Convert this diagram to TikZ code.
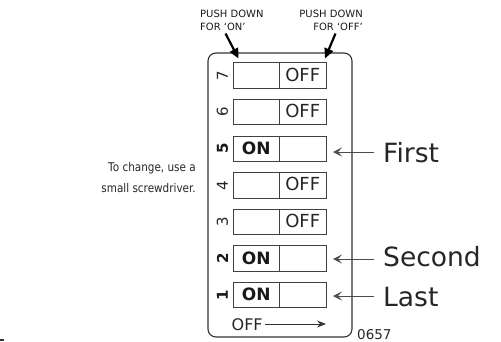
\documentclass[tikz,border=0pt]{standalone}
\usepackage{fontspec}
\setmainfont{DejaVu Sans}
\usetikzlibrary{arrows.meta}
\begin{document}
\begin{tikzpicture}[x=1pt,y=-1pt,
  frame/.style={draw=black!80, line width=1.1pt, rounded corners=8pt, minimum width=144pt, minimum height=284pt, inner sep=0pt},
  swbox/.style={draw=black!75, line width=0.9pt, minimum width=46.5pt, minimum height=25.5pt, inner sep=0pt, outer sep=0pt},
  offtxt/.style={font=\fontsize{18}{18}\selectfont, text=black!85, inner sep=0pt},
  ontxt/.style={font=\fontsize{17}{17}\bfseries\selectfont, text=black!90, inner sep=0pt},
  numtxt/.style={rotate=90, font=\fontsize{15}{15}\selectfont, text=black!85, inner sep=0pt},
  numbold/.style={rotate=90, font=\fontsize{15}{15}\bfseries\selectfont, text=black!90, inner sep=0pt},
  big/.style={font=\fontsize{26.5}{26.5}\selectfont, anchor=base west, inner sep=0pt, text=black!85},
  small/.style={font=\fontsize{10}{13}\selectfont, inner sep=0pt, text=black!90},
  ptr/.style={-{Stealth[length=9pt,width=9pt,inset=4pt]}, line width=0.8pt, draw=black!70},
  push/.style={-{Triangle[length=10pt,width=9pt]}, line width=2.2pt, draw=black},
]
\useasboundingbox (0,0) rectangle (501,341);

% enclosure
\node[frame] (frame) at (280,195) {};

% switches
\foreach \n/\k/\on in {7/0/0,6/1/0,5/2/1,4/3/0,3/4/0,2/5/1,1/6/1} {
  \pgfmathsetmacro\yc{75.5+36.6*\k}
  \node[swbox] (s\n l) at (256.25,\yc) {};
  \node[swbox] (s\n r) at (302.75,\yc) {};
  \ifnum\on=1
    \node[ontxt] (t\n) at ([yshift=0.5pt]s\n l.center) {ON};
    \node[numbold] (n\n) at (222.5,\yc) {\n};
  \else
    \node[offtxt] (t\n) at ([yshift=1pt]s\n r.center) {OFF};
    \node[numtxt] (n\n) at (222.5,\yc) {\n};
  \fi
}

% bottom OFF arrow
\node[font=\fontsize{16}{16}\selectfont, text=black!85, inner sep=0pt, anchor=base west] (offb) at (231.5,330) {OFF};
\coordinate (offe) at (326,324);
\draw[-{Stealth[length=9pt,width=7pt,inset=3pt]}, line width=0.9pt, draw=black!80] ([xshift=2pt]offb.east |- offe) -- (offe);

% top labels
\node[small, align=left, anchor=north west] (pon) at (200,10) {PUSH DOWN\\FOR ‘ON’};
\node[small, align=right, anchor=north east] (poff) at (363,10) {PUSH DOWN\\FOR ‘OFF’};
\coordinate (pa1) at (225.5,33.5);
\coordinate (pa2) at (238.5,58.5);
\coordinate (pb1) at (335.5,33.5);
\coordinate (pb2) at (325,58.5);
\draw[push] (pa1) -- (pa2);
\draw[push] (pb1) -- (pb2);

% right labels
\node[big] (first) at (383,162) {First};
\node[big] (second) at (383,266.5) {Second};
\node[big] (last) at (383,306.5) {Last};
\coordinate (f1) at (374,152);  \coordinate (f2) at (333,152);
\coordinate (g1) at (374,259);  \coordinate (g2) at (333,259);
\coordinate (h1) at (374,296);  \coordinate (h2) at (333,296);
\draw[ptr] (f1) -- (f2);
\draw[ptr] (g1) -- (g2);
\draw[ptr] (h1) -- (h2);

% left note
\node[font=\fontsize{12}{21}\selectfont, align=right, anchor=base east, inner sep=0pt, text=black!85] (note) at (196,192) {\scalebox{0.87}[1]{To change, use a}\\\scalebox{0.87}[1]{small screwdriver.}};

% code
\node[font=\fontsize{13.5}{13.5}\selectfont, anchor=base west, inner sep=0pt, text=black!85] (code) at (357,339) {0657};

% tiny mark
\fill[black!80] (0,339) rectangle (4,341);
\end{tikzpicture}
\end{document}
